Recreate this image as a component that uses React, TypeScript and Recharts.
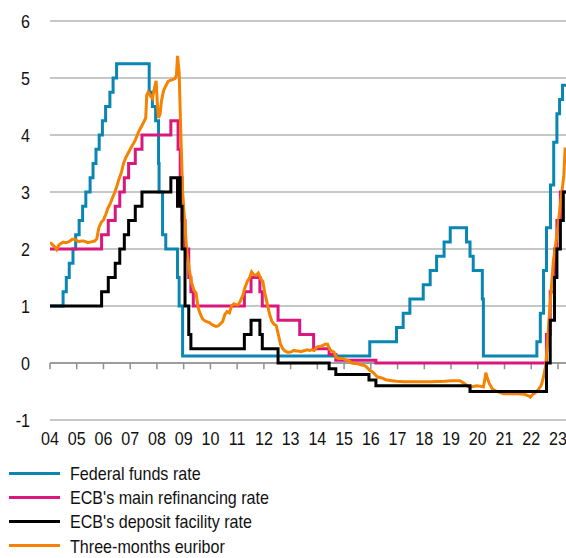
import React from 'react';
import { LineChart, Line, XAxis, YAxis, CartesianGrid, ReferenceLine, Legend } from 'recharts';

type P = { t: number; v: number };
const mk = (rows: number[][]): P[] => rows.map(([t, v]) => ({ t, v }));

const yearTicks = [2004, 2005, 2006, 2007, 2008, 2009, 2010, 2011, 2012, 2013, 2014, 2015, 2016, 2017, 2018, 2019, 2020, 2021, 2022, 2023];
const rateTicks = [-1, 0, 1, 2, 3, 4, 5, 6];

const fedFunds = mk([
  [2004.0, 1.0], [2004.49, 1.25], [2004.61, 1.5], [2004.72, 1.75], [2004.86, 2.0], [2004.96, 2.25],
  [2005.09, 2.5], [2005.22, 2.75], [2005.34, 3.0], [2005.5, 3.25], [2005.61, 3.5], [2005.72, 3.75],
  [2005.84, 4.0], [2005.96, 4.25], [2006.08, 4.5], [2006.24, 4.75], [2006.36, 5.0], [2006.49, 5.25],
  [2007.71, 4.75], [2007.83, 4.5], [2007.95, 4.25], [2008.06, 3.5], [2008.08, 3.0], [2008.21, 2.25],
  [2008.33, 2.0], [2008.77, 1.5], [2008.83, 1.0], [2008.96, 0.125], [2015.96, 0.375], [2016.96, 0.625],
  [2017.21, 0.875], [2017.46, 1.125], [2017.96, 1.375], [2018.22, 1.625], [2018.46, 1.875], [2018.74, 2.125],
  [2018.97, 2.375], [2019.58, 2.125], [2019.71, 1.875], [2019.83, 1.625], [2020.17, 1.125], [2020.21, 0.125],
  [2022.21, 0.375], [2022.34, 0.875], [2022.46, 1.625], [2022.57, 2.375], [2022.72, 3.125], [2022.84, 3.875],
  [2022.96, 4.375], [2023.06, 4.625], [2023.17, 4.875], [2023.3, 4.875],
]);

const ecbMain = mk([
  [2004.0, 2.0], [2005.93, 2.25], [2006.18, 2.5], [2006.44, 2.75], [2006.61, 3.0], [2006.78, 3.25],
  [2006.94, 3.5], [2007.19, 3.75], [2007.44, 4.0], [2008.52, 4.25], [2008.79, 3.75], [2008.87, 3.25],
  [2008.94, 2.5], [2009.05, 2.0], [2009.19, 1.5], [2009.27, 1.25], [2009.36, 1.0], [2011.27, 1.25],
  [2011.52, 1.5], [2011.85, 1.25], [2011.94, 1.0], [2012.53, 0.75], [2013.34, 0.5], [2013.86, 0.25],
  [2014.44, 0.15], [2014.69, 0.05], [2016.19, 0.0], [2022.57, 0.5], [2022.71, 1.25], [2022.87, 2.0],
  [2022.96, 2.5], [2023.09, 3.0], [2023.3, 3.0],
]);

const ecbDeposit = mk([
  [2004.0, 1.0], [2005.93, 1.25], [2006.18, 1.5], [2006.44, 1.75], [2006.61, 2.0], [2006.78, 2.25],
  [2006.94, 2.5], [2007.19, 2.75], [2007.44, 3.0], [2008.52, 3.25], [2008.77, 2.75], [2008.79, 3.25],
  [2008.87, 2.75], [2008.94, 2.0], [2009.05, 1.0], [2009.19, 0.5], [2009.27, 0.25], [2011.27, 0.5],
  [2011.52, 0.75], [2011.85, 0.5], [2011.94, 0.25], [2012.53, 0.0], [2014.44, -0.1], [2014.69, -0.2],
  [2015.93, -0.3], [2016.19, -0.4], [2019.71, -0.5], [2022.57, 0.0], [2022.71, 0.75], [2022.87, 1.5],
  [2022.96, 2.0], [2023.09, 2.5], [2023.2, 3.0], [2023.3, 3.0],
]);

const euribor3m = mk([
  [2004.0, 2.12], [2004.08, 2.08], [2004.17, 2.04], [2004.25, 1.99], [2004.33, 2.07], [2004.42, 2.1],
  [2004.5, 2.12], [2004.58, 2.11], [2004.67, 2.12], [2004.75, 2.14], [2004.83, 2.17], [2004.92, 2.17],
  [2005.0, 2.15], [2005.08, 2.13], [2005.17, 2.14], [2005.25, 2.14], [2005.33, 2.13], [2005.42, 2.11],
  [2005.5, 2.12], [2005.58, 2.13], [2005.67, 2.14], [2005.75, 2.18], [2005.83, 2.38], [2005.92, 2.47],
  [2006.0, 2.51], [2006.08, 2.6], [2006.17, 2.72], [2006.25, 2.79], [2006.33, 2.89], [2006.42, 2.99],
  [2006.5, 3.1], [2006.58, 3.23], [2006.67, 3.34], [2006.75, 3.5], [2006.83, 3.6], [2006.92, 3.68],
  [2007.0, 3.75], [2007.08, 3.82], [2007.17, 3.89], [2007.25, 3.98], [2007.33, 4.07], [2007.42, 4.15],
  [2007.5, 4.22], [2007.58, 4.3], [2007.62, 4.7], [2007.67, 4.75], [2007.75, 4.69], [2007.83, 4.64],
  [2007.92, 4.85], [2007.97, 4.95], [2008.02, 4.5], [2008.06, 4.3], [2008.12, 4.38], [2008.17, 4.6],
  [2008.25, 4.78], [2008.33, 4.86], [2008.42, 4.94], [2008.5, 4.96], [2008.58, 4.97], [2008.67, 4.99],
  [2008.73, 5.05], [2008.77, 5.39], [2008.83, 5.1], [2008.88, 4.25], [2008.96, 3.0], [2009.04, 2.46],
  [2009.12, 1.94], [2009.21, 1.64], [2009.29, 1.42], [2009.38, 1.28], [2009.46, 1.23], [2009.54, 0.97],
  [2009.62, 0.86], [2009.71, 0.77], [2009.79, 0.74], [2009.88, 0.72], [2009.96, 0.71], [2010.04, 0.68],
  [2010.12, 0.66], [2010.21, 0.64], [2010.29, 0.65], [2010.38, 0.69], [2010.46, 0.73], [2010.54, 0.85],
  [2010.62, 0.9], [2010.71, 0.88], [2010.79, 1.0], [2010.88, 1.04], [2010.96, 1.02], [2011.04, 1.02],
  [2011.12, 1.09], [2011.21, 1.18], [2011.29, 1.32], [2011.38, 1.43], [2011.46, 1.49], [2011.54, 1.6],
  [2011.62, 1.55], [2011.71, 1.54], [2011.79, 1.58], [2011.88, 1.48], [2011.96, 1.43], [2012.04, 1.22],
  [2012.12, 1.05], [2012.21, 0.86], [2012.29, 0.74], [2012.38, 0.68], [2012.46, 0.66], [2012.54, 0.5],
  [2012.62, 0.33], [2012.71, 0.25], [2012.79, 0.21], [2012.88, 0.19], [2012.96, 0.19], [2013.04, 0.2],
  [2013.12, 0.22], [2013.21, 0.21], [2013.29, 0.21], [2013.38, 0.2], [2013.46, 0.21], [2013.54, 0.22],
  [2013.62, 0.23], [2013.71, 0.22], [2013.79, 0.23], [2013.88, 0.22], [2013.96, 0.27], [2014.04, 0.29],
  [2014.12, 0.29], [2014.21, 0.31], [2014.29, 0.33], [2014.38, 0.33], [2014.46, 0.24], [2014.54, 0.21],
  [2014.62, 0.19], [2014.71, 0.1], [2014.79, 0.08], [2014.88, 0.08], [2014.96, 0.08], [2015.04, 0.06],
  [2015.12, 0.05], [2015.21, 0.03], [2015.29, 0.0], [2015.38, -0.01], [2015.46, -0.01], [2015.54, -0.02],
  [2015.62, -0.03], [2015.71, -0.04], [2015.79, -0.05], [2015.88, -0.09], [2015.96, -0.13], [2016.04, -0.15],
  [2016.12, -0.18], [2016.21, -0.23], [2016.29, -0.25], [2016.38, -0.26], [2016.46, -0.27], [2016.54, -0.29],
  [2016.62, -0.3], [2016.79, -0.31], [2016.96, -0.32], [2017.25, -0.33], [2017.75, -0.33], [2018.25, -0.33],
  [2018.75, -0.32], [2019.04, -0.31], [2019.33, -0.31], [2019.5, -0.36], [2019.62, -0.41], [2019.75, -0.42],
  [2019.96, -0.4], [2020.12, -0.41], [2020.21, -0.42], [2020.26, -0.3], [2020.3, -0.17], [2020.35, -0.25],
  [2020.42, -0.35], [2020.54, -0.45], [2020.67, -0.49], [2020.79, -0.51], [2020.96, -0.54], [2021.25, -0.54],
  [2021.5, -0.54], [2021.75, -0.55], [2021.92, -0.58], [2021.97, -0.6], [2022.04, -0.56], [2022.12, -0.53],
  [2022.21, -0.5], [2022.29, -0.45], [2022.38, -0.39], [2022.46, -0.24], [2022.54, -0.05], [2022.6, 0.3],
  [2022.67, 0.8], [2022.75, 1.3], [2022.83, 1.8], [2022.92, 2.1], [2023.0, 2.4], [2023.08, 2.75],
  [2023.16, 3.05], [2023.22, 3.3], [2023.27, 3.78],
]);

const series = [
  { key: 'fed', name: 'Federal funds rate', color: '#0a86b3', data: fedFunds, type: 'stepAfter' },
  { key: 'mro', name: "ECB's main refinancing rate", color: '#d9177f', data: ecbMain, type: 'stepAfter' },
  { key: 'dep', name: "ECB's deposit facility rate", color: '#000000', data: ecbDeposit, type: 'stepAfter' },
  { key: 'eur', name: 'Three-months euribor', color: '#f58200', data: euribor3m, type: 'linear' },
];
const drawOrder = ['fed', 'mro', 'eur', 'dep'];

const FONT = '"Liberation Sans", Arial, sans-serif';
const FS = 18.5;
const SX = 0.87;

const XTick = (p: any) => (
  <text
    transform={`translate(${p.x},${p.y}) scale(${SX},1)`}
    textAnchor="middle"
    dy="0.71em"
    fontFamily={FONT}
    fontSize={FS}
    fill="#111"
  >
    {String(p.payload.value).slice(2)}
  </text>
);

const YTick = (p: any) => (
  <text
    transform={`translate(${p.x},${p.y}) scale(${SX},1)`}
    textAnchor="end"
    dy="0.355em"
    fontFamily={FONT}
    fontSize={FS}
    fill="#111"
  >
    {String(p.payload.value)}
  </text>
);

const LegendBox = () => (
  <div style={{ fontFamily: FONT, fontSize: FS, color: '#111' }}>
    {series.map((s) => (
      <div key={s.key} style={{ display: 'flex', alignItems: 'center', height: 24.2 }}>
        <div style={{ width: 51, height: 3, background: s.color, marginLeft: 9, marginRight: 10 }} />
        <span
          style={{
            display: 'inline-block',
            whiteSpace: 'nowrap',
            transform: `scaleX(${SX})`,
            transformOrigin: 'left center',
            lineHeight: '24px',
            position: 'relative',
            top: 1,
          }}
        >
          {s.name}
        </span>
      </div>
    ))}
  </div>
);

export default function App() {
  return (
    <div style={{ position: 'absolute', left: 0, top: 0, width: 566, height: 558, background: '#fff' }}>
      <LineChart width={566} height={558} margin={{ top: 21, right: 0, left: 0, bottom: 108 }}>
        <CartesianGrid horizontal vertical={false} stroke="#b5b5b5" strokeWidth={1.3} />
        <XAxis
          dataKey="t"
          type="number"
          domain={[2004, 2023.3]}
          ticks={yearTicks}
          allowDataOverflow
          axisLine={false}
          tickLine={false}
          tickSize={0}
          tickMargin={12}
          height={30}
          interval={0}
          tick={<XTick />}
        />
        <YAxis
          type="number"
          domain={[-1, 6]}
          ticks={rateTicks}
          axisLine={false}
          tickLine={false}
          tickSize={0}
          tickMargin={20}
          width={50}
          interval={0}
          tick={<YTick />}
        />
        <ReferenceLine y={0} stroke="#8f8f8f" strokeWidth={1.5} />
        {yearTicks.map((yr) => (
          <ReferenceLine
            key={yr}
            segment={[{ x: yr, y: 0 }, { x: yr, y: -0.11 }]}
            stroke="#8f8f8f"
            strokeWidth={1.5}
          />
        ))}
        {drawOrder.map((k) => {
          const s = series.find((x) => x.key === k)!;
          return (
            <Line
              key={s.key}
              data={s.data}
              dataKey="v"
              name={s.name}
              type={s.type as any}
              stroke={s.color}
              strokeWidth={3}
              dot={false}
              activeDot={false}
              isAnimationActive={false}
              strokeLinejoin="miter"
            />
          );
        })}
        <Legend
          layout="vertical"
          align="center"
          verticalAlign="middle"
          content={() => <LegendBox />}
          wrapperStyle={{ position: 'absolute', top: 461, left: 0, width: 566 }}
        />
      </LineChart>
    </div>
  );
}
